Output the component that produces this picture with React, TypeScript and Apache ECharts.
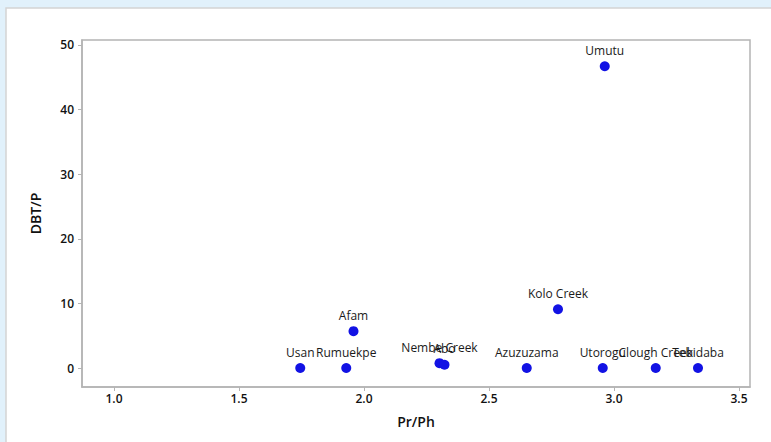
import React, { useEffect, useRef } from "react";
import * as echarts from "echarts";

const names = ["Usan", "Rumuekpe", "Afam", "Nembe Creek", "Abo", "Azuzuzama", "Kolo Creek", "Utorogu", "Clough Creek", "Tebidaba", "Umutu"];
const prPh = [1.745, 1.929, 1.958, 2.302, 2.322, 2.651, 2.776, 2.955, 3.167, 3.336, 2.963];
const dbtP = [0.0, 0.0, 5.7, 0.75, 0.5, 0.0, 9.1, 0.0, 0.0, 0.0, 46.7];
const xTicks = [1.0, 1.5, 2.0, 2.5, 3.0, 3.5];
const yTicks = [0, 10, 20, 30, 40, 50];

export default function App() {
  const ref = useRef<HTMLDivElement>(null);
  useEffect(() => {
    const chart = echarts.init(ref.current!, null, { renderer: "svg" });
    const font = "'Open Sans', 'Noto Sans', sans-serif";
    chart.setOption({
      animation: false,
      backgroundColor: "#e1f1fb",
      textStyle: { fontFamily: font },
      graphic: [
        {
          type: "rect",
          shape: { x: 6, y: 8, width: 780, height: 450 },
          style: { fill: "#ffffff", stroke: "#d4d4d4", lineWidth: 1.5 },
          z: -10,
        },
        {
          type: "rect",
          shape: { x: 82, y: 40, width: 668, height: 347 },
          style: { fill: "none", stroke: "#b4b4b4", lineWidth: 1.5 },
          z: 1,
        },
      ],
      grid: { left: 82, right: 21, top: 40, bottom: 55, show: false },
      xAxis: {
        type: "value",
        min: 0.872,
        max: 3.544,
        name: "Pr/Ph",
        nameLocation: "middle",
        nameGap: 27,
        nameTextStyle: { fontSize: 14, color: "#111", fontWeight: 600, fontFamily: font },
        splitLine: { show: false },
        axisLine: { show: true, onZero: false, lineStyle: { color: "#b4b4b4", width: 1.5 } },
        axisTick: { show: true, length: 4, customValues: xTicks, lineStyle: { color: "#b4b4b4" } },
        axisLabel: {
          customValues: xTicks,
          formatter: (v: number) => v.toFixed(1),
          fontSize: 12,
          color: "#111",
          fontWeight: 600,
          margin: 5,
          fontFamily: font,
        },
      },
      yAxis: {
        type: "value",
        min: -2.94,
        max: 50.77,
        name: "DBT/P",
        nameLocation: "middle",
        nameGap: 40,
        nameTextStyle: { fontSize: 14, color: "#111", fontWeight: 600, fontFamily: font },
        splitLine: { show: false },
        axisLine: { show: true, onZero: false, lineStyle: { color: "#b4b4b4", width: 1.5 } },
        axisTick: { show: true, length: 4, customValues: yTicks, lineStyle: { color: "#b4b4b4" } },
        axisLabel: {
          customValues: yTicks,
          fontSize: 12,
          color: "#111",
          fontWeight: 600,
          margin: 8,
          fontFamily: font,
        },
      },
      series: [
        {
          type: "scatter",
          symbol: "circle",
          symbolSize: 10,
          itemStyle: { color: "#1212e4", opacity: 1 },
          data: names.map((n, i) => ({ name: n, value: [prPh[i], dbtP[i]] })),
          label: {
            show: true,
            position: "top",
            distance: 5,
            formatter: "{b}",
            fontSize: 12,
            color: "#1a1a1a",
            fontFamily: font,
          },
          labelLayout: { hideOverlap: false },
        },
      ],
    });
    return () => chart.dispose();
  }, []);
  return (
    <div
      ref={ref}
      style={{ position: "absolute", left: 0, top: 0, width: 771, height: 442 }}
    />
  );
}
